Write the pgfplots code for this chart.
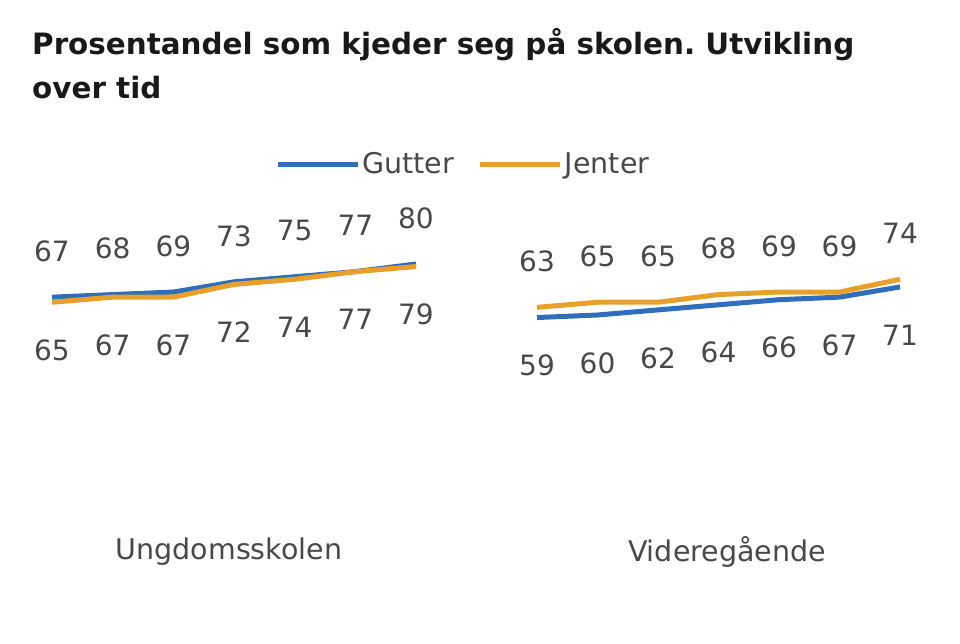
\documentclass[border=0pt]{standalone}
\usepackage{pgfplots}
\pgfplotsset{compat=1.18}
\usepackage{fontspec}
\setmainfont{DejaVu Sans}
\definecolor{gblue}{RGB}{46,110,186}
\definecolor{jorange}{RGB}{232,160,42}
\definecolor{lbl}{RGB}{72,72,72}

\pgfplotsset{
  panel/.style={
    hide axis, scale only axis, clip=false,
    width=364pt, height=255pt,
    xmin=0, xmax=6, ymin=0, ymax=100,
    /pgf/number format/assume math mode=true,
    every node near coord/.append style={font=\fontsize{28}{33}\selectfont, text=lbl, anchor=center},
  },
  up/.style={nodes near coords, every node near coord/.append style={yshift=46pt}},
  down/.style={nodes near coords, every node near coord/.append style={yshift=-48pt}},
}

\begin{document}
\frenchspacing
\begin{tikzpicture}[x=1pt,y=1pt]
\path[use as bounding box] (0,0) rectangle (960,644);
\node[anchor=base west, inner sep=0pt, font=\fontsize{29.4}{36}\selectfont\bfseries, text=black!90] at (32,589) {Prosentandel som kjeder seg på skolen. Utvikling};
\node[anchor=base west, inner sep=0pt, font=\fontsize{29.4}{36}\selectfont\bfseries, text=black!90] at (32,545) {over tid};

% Ungdomsskolen
\begin{axis}[panel, at={(52pt,176pt)}, anchor=south west,
  legend columns=2,
  legend style={at={(1.13,1.192)}, anchor=center, draw=none, fill=none,
    font=\fontsize{28.5}{33}\selectfont, text=lbl,
    /tikz/every even column/.append style={column sep=22pt}},
  legend image code/.code={\draw[#1] (0pt,0pt) -- (80pt,0pt);},
]
\addplot[gblue, line width=5pt, up] coordinates {(0,67) (1,68) (2,69) (3,73) (4,75) (5,77) (6,80)};
\addlegendentry{Gutter}
\addplot[jorange, line width=5pt, down] coordinates {(0,65) (1,67) (2,67) (3,72) (4,74) (5,77) (6,79)};
\addlegendentry{Jenter}
\end{axis}

% Videregående
\begin{axis}[panel, at={(537pt,176pt)}, anchor=south west, width=363pt]
\addplot[gblue, line width=5pt, down] coordinates {(0,59) (1,60) (2,62) (3,64) (4,66) (5,67) (6,71)};
\addplot[jorange, line width=5pt, up] coordinates {(0,63) (1,65) (2,65) (3,68) (4,69) (5,69) (6,74)};
\end{axis}

\node[font=\fontsize{28.5}{33}\selectfont, text=lbl] at (229,92) {Ungdomsskolen};
\node[font=\fontsize{28.5}{33}\selectfont, text=lbl] at (727,92) {Videregående};
\end{tikzpicture}
\end{document}
